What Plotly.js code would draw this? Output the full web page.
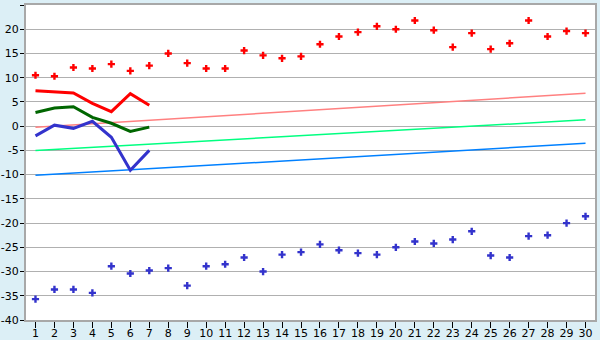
<!DOCTYPE html>
<html>
<head>
<meta charset="utf-8">
<script src="https://cdn.plot.ly/plotly-3.0.1.min.js"></script>
<style>html,body{margin:0;padding:0;background:#DCEFF6;}#chart{width:600px;height:340px;}</style>
</head>
<body>
<div id="chart"></div>
<script>
const days = [1,2,3,4,5,6,7,8,9,10,11,12,13,14,15,16,17,18,19,20,21,22,23,24,25,26,27,28,29,30];
const yTicks = [25,20,15,10,5,0,-5,-10,-15,-20,-25,-30,-35,-40];
const yTickText = ['25','20','15','10','5','0','-5','-10','-15','-20','-25','-30','-35','-40'];
const highPoints = [10.5,10.3,12.1,11.9,12.8,11.4,12.5,15.0,13.0,11.9,11.9,15.6,14.6,14.0,14.4,16.9,18.5,19.4,20.6,20.0,21.8,19.8,16.3,19.2,15.9,17.1,21.8,18.5,19.6,19.2];
const lowPoints = [-35.7,-33.7,-33.7,-34.4,-28.9,-30.4,-29.8,-29.3,-32.9,-28.9,-28.5,-27.1,-30.0,-26.5,-26.0,-24.4,-25.6,-26.2,-26.5,-25.0,-23.8,-24.2,-23.4,-21.7,-26.7,-27.1,-22.7,-22.5,-20.0,-18.6];
const lineDays = [1,2,3,4,5,6,7];
const redLine = [7.3,7.05,6.85,4.7,3.0,6.7,4.3];
const greenLine = [2.8,3.75,4.0,1.8,0.6,-1.1,-0.2];
const blueLine = [-2.0,0.2,-0.45,1.0,-2.3,-9.1,-5.0];
const trendDays = [1,30];
const pinkTrend = [-0.25,6.8];
const greenTrend = [-5.0,1.3];
const blueTrend = [-10.15,-3.55];

const traces = [
  {x: trendDays, y: pinkTrend, mode:'lines', line:{color:'#FF8080', width:1.5}},
  {x: trendDays, y: greenTrend, mode:'lines', line:{color:'#00FF80', width:1.5}},
  {x: trendDays, y: blueTrend, mode:'lines', line:{color:'#0080FF', width:1.5}},
  {x: lineDays, y: redLine, mode:'lines', line:{color:'#FF0000', width:3}},
  {x: lineDays, y: greenLine, mode:'lines', line:{color:'#006600', width:3}},
  {x: lineDays, y: blueLine, mode:'lines', line:{color:'#3333CC', width:3}},
  {x: days, y: highPoints, mode:'markers', marker:{symbol:'cross', size:6, color:'#FF0000'}},
  {x: days, y: lowPoints, mode:'markers', marker:{symbol:'cross', size:6, color:'#3333CC'}}
];

const layout = {
  width:600, height:340,
  margin:{l:26, r:5, t:5, b:20, pad:0},
  paper_bgcolor:'#DCEFF6', plot_bgcolor:'#FFFFFF',
  showlegend:false,
  font:{family:'DejaVu Sans, Verdana, sans-serif', size:11, color:'#000000'},
  xaxis:{range:[0.5,30.5], tickvals:days, ticktext:days.map(String), showgrid:false, zeroline:false,
         showline:true, linecolor:'#A8A8A8', linewidth:2, mirror:true,
         ticks:'outside', ticklen:6, tickcolor:'#000000', tickwidth:1, ticklabelstandoff:-4},
  yaxis:{range:[-40,25], tickvals:yTicks, ticktext:yTickText, showgrid:true, gridcolor:'#B0B0B0', gridwidth:1, zeroline:false,
         showline:true, linecolor:'#A8A8A8', linewidth:2, mirror:true,
         ticks:'outside', ticklen:4, tickcolor:'#000000', tickwidth:1, ticklabelstandoff:-1}
};

Plotly.newPlot('chart', traces, layout, {staticPlot:true, displayModeBar:false});
</script>
</body>
</html>
